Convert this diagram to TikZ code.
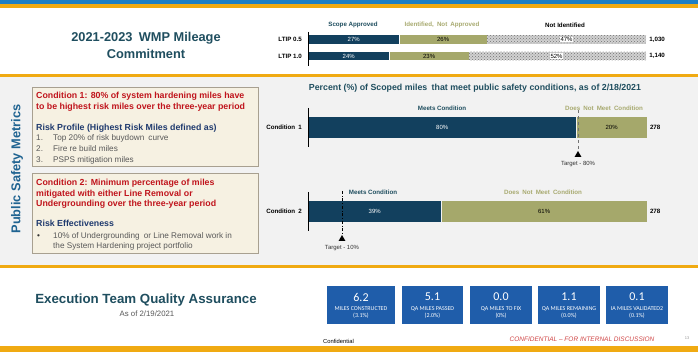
\documentclass[tikz,border=0pt]{standalone}
\usepackage{fontspec}
\setmainfont{Liberation Sans}
\newfontfamily\carl{Carlito}
\usetikzlibrary{patterns,shapes.geometric}
\definecolor{bandblue}{HTML}{1E7FC4}
\definecolor{gold}{HTML}{F0AA12}
\definecolor{midgray}{HTML}{F2F2F2}
\definecolor{teal}{HTML}{1F4E5F}
\definecolor{darkbar}{HTML}{12405E}
\definecolor{olivebar}{HTML}{A5A86B}
\definecolor{olivetxt}{HTML}{A8AA70}
\definecolor{boxfill}{HTML}{F6F1E2}
\definecolor{boxline}{HTML}{A8A090}
\definecolor{darkred}{HTML}{C0141C}
\definecolor{navy}{HTML}{1F3A6E}
\definecolor{listgray}{HTML}{595959}
\definecolor{psm}{HTML}{1F6391}
\definecolor{qablue}{HTML}{1F5DAA}
\definecolor{confred}{HTML}{D04545}
\tikzset{
  ttl/.style={text=teal,font=\fontsize{12.8}{17}\selectfont\bfseries,align=center,inner sep=0},
  lab/.style={font=\fontsize{6.2}{7}\selectfont\bfseries,inner sep=0},
  seg/.style={anchor=north west,inner sep=0,draw=none,font=\fontsize{6}{7}\selectfont},
  hatch/.style={preaction={fill=black!18},pattern=crosshatch dots,pattern color=black!55},
  pbox/.style={fill=white,inner sep=0.6pt,font=\fontsize{6}{7}\selectfont},
  axisl/.style={draw=black,line width=0.6pt},
  condbox/.style={draw=boxline,fill=boxfill,line width=0.6pt,anchor=north west,inner sep=0},
  redt/.style={anchor=base west,inner sep=0,text=darkred,font=\fontsize{8.8}{10}\selectfont\bfseries},
  navyt/.style={anchor=base west,inner sep=0,text=navy,font=\fontsize{8.8}{10}\selectfont\bfseries},
  listt/.style={anchor=base west,inner sep=0,text=listgray,font=\fontsize{8.2}{10}\selectfont},
  tri/.style={regular polygon,regular polygon sides=3,fill=black,inner sep=0,minimum size=8pt},
  tgt/.style={inner sep=0,font=\fontsize{6}{7}\selectfont,text=black!80},
  qabox/.style={fill=qablue,inner sep=0,minimum height=38pt},
  qanum/.style={text=white,inner sep=0,font=\carl\fontsize{12}{13}\selectfont},
  qalab/.style={text=white,inner sep=0,font=\carl\fontsize{6}{7}\selectfont},
}
\begin{document}
\begin{tikzpicture}[x=1pt,y=-1pt]
\useasboundingbox (0,0) rectangle (698,352);
\fill[white] (0,0) rectangle (698,352);
\fill[bandblue] (0,0) rectangle (698,4.5);
\fill[gold] (0,4.5) rectangle (698,8);
\fill[midgray] (0,77) rectangle (698,266);
\fill[gold] (0,74.5) rectangle (698,77);
\fill[gold] (0,265.5) rectangle (698,268);
\fill[gold] (0,345.5) rectangle (698,352);

% ---------- top section
\node[ttl] (t1) at (146,45.5) {2021-2023\enspace WMP Mileage\\Commitment};
\node[lab,text=teal] (lg1) at (353,25) {Scope Approved};
\node[lab,text=olivetxt] (lg2) at (442,25) {Identified,\enspace Not\enspace Approved};
\node[lab] (lg3) at (565,25) {Not Identified};
\coordinate (a1t) at (308,32);
\coordinate (a1b) at (308,66);
\node[seg,fill=darkbar,text=white,minimum width=91pt,minimum height=8.6pt] (b11) at (308,35) {27\%};
\node[seg,fill=olivebar,minimum width=87pt,minimum height=8.6pt] (b12) at (b11.north east) {26\%};
\node[seg,hatch,minimum width=159pt,minimum height=8.6pt] (b13) at (b12.north east) {};
\node[pbox] (p13) at (b13.center) {47\%};
\node[lab,anchor=west] (tot1) at ([xshift=3pt]b13.east) {1,030};
\node[lab,anchor=east] (l05) at ([xshift=-6pt]b11.west) {LTIP 0.5};
\node[seg,fill=darkbar,text=white,minimum width=81pt,minimum height=8.6pt] (b21) at (308,51.7) {24\%};
\node[seg,fill=olivebar,minimum width=79pt,minimum height=8.6pt] (b22) at (b21.north east) {23\%};
\node[seg,hatch,minimum width=177pt,minimum height=8.6pt] (b23) at (b22.north east) {};
\node[pbox] (p23) at ([xshift=-1pt]b23.center) {52\%};
\node[lab,anchor=west] (tot2) at ([xshift=3pt]b23.east) {1,140};
\node[lab,anchor=east] (l10) at ([xshift=-6pt]b21.west) {LTIP 1.0};
\draw[axisl] (a1t) -- (a1b);

% ---------- middle section
\node[text=psm,rotate=90,inner sep=0,font=\fontsize{12.8}{14}\selectfont\bfseries] (psmt) at (17,169) {Public Safety Metrics};

\node[condbox,minimum width=226pt,minimum height=79pt] (c1) at (31.5,87) {};
\node[redt] (c1a) at (36,98.5) {Condition 1: 80\% of system hardening miles have};
\node[redt] (c1b) at (36,109.5) {to be highest risk miles over the three-year period};
\node[navyt] (c1h) at (36,130.5) {Risk Profile (Highest Risk Miles defined as)};
\node[listt] (c1n1) at (36,140.5) {1.};
\node[listt] (c1i1) at (53,140.5) {Top 20\% of risk buydown\enspace curve};
\node[listt] (c1n2) at (36,151.5) {2.};
\node[listt] (c1i2) at (53,151.5) {Fire re build miles};
\node[listt] (c1n3) at (36,162.5) {3.};
\node[listt] (c1i3) at (53,162.5) {PSPS mitigation miles};

\node[condbox,minimum width=226pt,minimum height=80pt] (c2) at (31.5,173) {};
\node[redt] (c2a) at (36,185.5) {Condition 2: Minimum percentage of miles};
\node[redt] (c2b) at (36,196.5) {mitigated with either Line Removal or};
\node[redt] (c2c) at (36,206.5) {Undergrounding over the three-year period};
\node[navyt] (c2h) at (36,227) {Risk Effectiveness};
\node[listt,text=black!80] (c2n1) at (37,238.5) {\textbullet};
\node[listt] (c2i1) at (53,238.5) {10\% of Undergrounding\enspace or Line Removal work in};
\node[listt] (c2i2) at (53,249) {the System Hardening project portfolio};

\node[text=teal,inner sep=0,font=\fontsize{8.8}{10}\selectfont\bfseries] (ct) at (475,88) {Percent (\%) of Scoped miles\enspace that meet public safety conditions, as of 2/18/2021};

% condition 1
\node[lab,text=teal] (m1) at (442,108) {Meets Condition};
\node[lab,text=olivetxt] (d1) at (604,108) {Does\enspace Not\enspace Meet\enspace Condition};
\coordinate (a2t) at (308,108);
\coordinate (a2b) at (308,147);
\node[seg,fill=darkbar,text=white,minimum width=268pt,minimum height=21pt] (cb11) at (308,117) {80\%};
\node[seg,fill=olivebar,minimum width=70pt,minimum height=21pt] (cb12) at (cb11.north east) {20\%};
\node[lab,anchor=west] (ct1) at ([xshift=3pt]cb12.east) {278};
\node[lab,anchor=east] (cl1) at ([xshift=-6pt]cb11.west) {Condition\enspace 1};
\draw[axisl] (a2t) -- (a2b);
\coordinate (g1t) at (578,110);
\node[tri] (tr1) at (578,155) {};
\draw[black!55,dashed,line width=0.7pt] (g1t) -- (tr1.north);
\node[tgt] (tg1) at (578,164) {Target - 80\%};

% condition 2
\node[lab,text=teal] (m2) at (373,192) {Meets Condition};
\node[lab,text=olivetxt] (d2) at (543,192) {Does\enspace Not\enspace Meet\enspace Condition};
\coordinate (a3t) at (308,192);
\coordinate (a3b) at (308,231);
\node[seg,fill=darkbar,text=white,minimum width=133pt,minimum height=21pt] (cb21) at (308,201) {39\%};
\node[seg,fill=olivebar,minimum width=205pt,minimum height=21pt] (cb22) at (cb21.north east) {61\%};
\node[lab,anchor=west] (ct2) at ([xshift=3pt]cb22.east) {278};
\node[lab,anchor=east] (cl2) at ([xshift=-6pt]cb21.west) {Condition\enspace 2};
\draw[axisl] (a3t) -- (a3b);
\coordinate (g2t) at (342,191);
\node[tri] (tr2) at (342,239) {};
\draw[black,dash dot,line width=0.6pt] (g2t) -- (tr2.north);
\node[tgt] (tg2) at (342,248) {Target - 10\%};

% ---------- bottom section
\node[text=teal,inner sep=0,font=\fontsize{13.3}{15}\selectfont\bfseries] (et) at (146,300) {Execution Team Quality Assurance};
\node[text=listgray,inner sep=0,font=\fontsize{7.8}{9}\selectfont] (ed) at (147,314) {As of 2/19/2021};

\foreach \i/\x/\w/\n/\l/\p in {1/361/68/6.2/MILES CONSTRUCTED/(3.1\%),2/432.5/61/5.1/QA MILES PASSED/(2.0\%),3/501/62/0.0/QA MILES TO FIX/(0\%),4/569/62/1.1/QA MILES REMAINING/(0.0\%),5/637/62/0.1/IA MILES VALIDATED2/(0.1\%)}{
  \node[qabox,minimum width=\w pt] (q\i) at (\x,305) {};
  \node[qanum] (qn\i) at (\x,297) {\n};
  \node[qalab] (ql\i) at (\x,308.5) {\l};
  \node[qalab] (qp\i) at (\x,315.5) {\p};
}

\node[anchor=base west,inner sep=0,font=\fontsize{5.8}{6}\selectfont] (conf) at (323,343) {Confidential};
\node[inner sep=0,text=confred,font=\fontsize{6.5}{7}\selectfont\itshape] (cfi) at (582,339) {CONFIDENTIAL -- FOR INTERNAL DISCUSSION};
\node[inner sep=0,text=black!40,font=\fontsize{4}{5}\selectfont] (pg) at (687,338) {13};
\end{tikzpicture}
\end{document}
